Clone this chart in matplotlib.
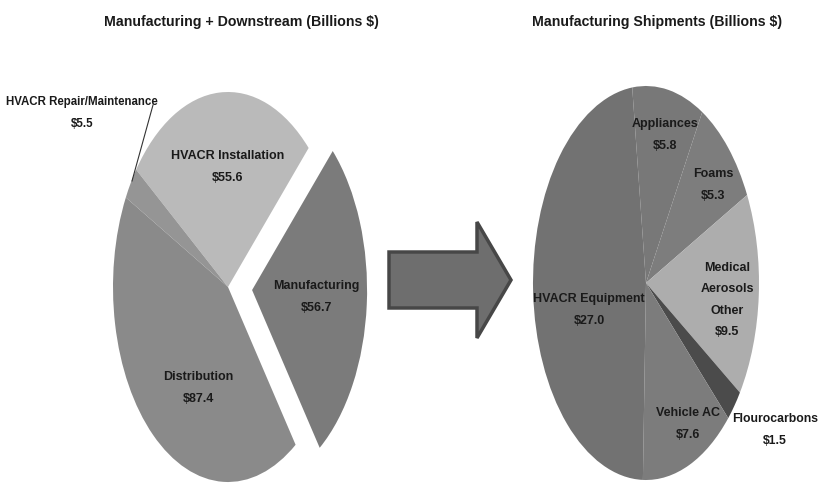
import matplotlib
matplotlib.use("Agg")
import matplotlib.pyplot as plt
from matplotlib.patches import FancyArrow

# ---- data ----
left_labels = ["Manufacturing", "HVACR Installation", "HVACR Repair/Maintenance", "Distribution"]
left_values = [56.7, 55.6, 5.5, 87.4]
left_colors = ["#7b7b7b", "#bababa", "#959595", "#8a8a8a"]

right_labels = ["Appliances", "Foams", "Medical\nAerosols\nOther", "Flourocarbons", "Vehicle AC", "HVACR Equipment"]
right_values = [5.8, 5.3, 9.5, 1.5, 7.6, 27.0]
right_colors = ["#787878", "#7d7d7d", "#adadad", "#4b4b4b", "#7c7c7c", "#727272"]

title_left = "Manufacturing + Downstream (Billions $)"
title_right = "Manufacturing Shipments (Billions $)"

W, H = 818, 485
plt.rcParams['font.family'] = ["Liberation Sans", "DejaVu Sans"]

fig = plt.figure(figsize=(W / 100, H / 100), dpi=100)
fig.patch.set_facecolor("white")


def pie_axes(cx, cy, rx, ry):
    return fig.add_axes([(cx - rx) / W, (H - (cy + ry)) / H, 2 * rx / W, 2 * ry / H])


# left pie
axl = pie_axes(228, 288, 115, 195)
axl.pie(left_values, colors=left_colors, startangle=-54, counterclock=True,
        explode=[0.21, 0, 0, 0], wedgeprops=dict(linewidth=0))
axl.set_aspect("auto")
axl.set_xlim(-1, 1)
axl.set_ylim(-1, 1)
axl.axis("off")

# right pie
axr = pie_axes(646, 284, 113, 197)
axr.pie(right_values, colors=right_colors, startangle=97, counterclock=False,
        wedgeprops=dict(linewidth=0))
axr.set_aspect("auto")
axr.set_xlim(-1, 1)
axr.set_ylim(-1, 1)
axr.axis("off")

# overlay in pixel coordinates
ov = fig.add_axes([0, 0, 1, 1], zorder=5)
ov.set_xlim(0, W)
ov.set_ylim(H, 0)
ov.axis("off")

tkw = dict(ha="center", va="center", fontweight="bold", color="#1a1a1a")
ov.text(241, 22, title_left, fontsize=10.2, **tkw)
ov.text(657, 22, title_right, fontsize=10.2, **tkw)

lkw = dict(ha="center", va="center", fontweight="bold", color="#1a1a1a", linespacing=2.05)
ov.text(82, 113, f"{left_labels[2]}\n${left_values[2]}", fontsize=8.3, **lkw)
ov.text(228, 167, f"{left_labels[1]}\n${left_values[1]}", fontsize=9, **lkw)
ov.text(316, 297, f"{left_labels[0]}\n${left_values[0]}", fontsize=9, **lkw)
ov.text(198, 388, f"{left_labels[3]}\n${left_values[3]}", fontsize=9, **lkw)
ov.plot([153, 132], [106, 182], color="#333333", lw=0.8)

ov.text(665, 135, f"{right_labels[0]}\n${right_values[0]}", fontsize=9, **lkw)
ov.text(713, 185, f"{right_labels[1]}\n${right_values[1]}", fontsize=9, **lkw)
ov.text(727, 300, f"{right_labels[2]}\n${right_values[2]}", fontsize=9, **lkw)
ov.text(775, 430, f"{right_labels[3]}\n${right_values[3]}", fontsize=8.8, **lkw)
ov.text(688, 424, f"{right_labels[4]}\n${right_values[4]}", fontsize=9, **lkw)
ov.text(589, 310, f"{right_labels[5]}\n${right_values[5]}", fontsize=9, **lkw)

arrow = FancyArrow(389, 281, 122, 0, width=56, head_width=116, head_length=34,
                   length_includes_head=True, facecolor="#6e6e6e",
                   edgecolor="#474747", linewidth=2.5)
ov.add_patch(arrow)

fig.savefig("out.png", dpi=100, facecolor="white")
